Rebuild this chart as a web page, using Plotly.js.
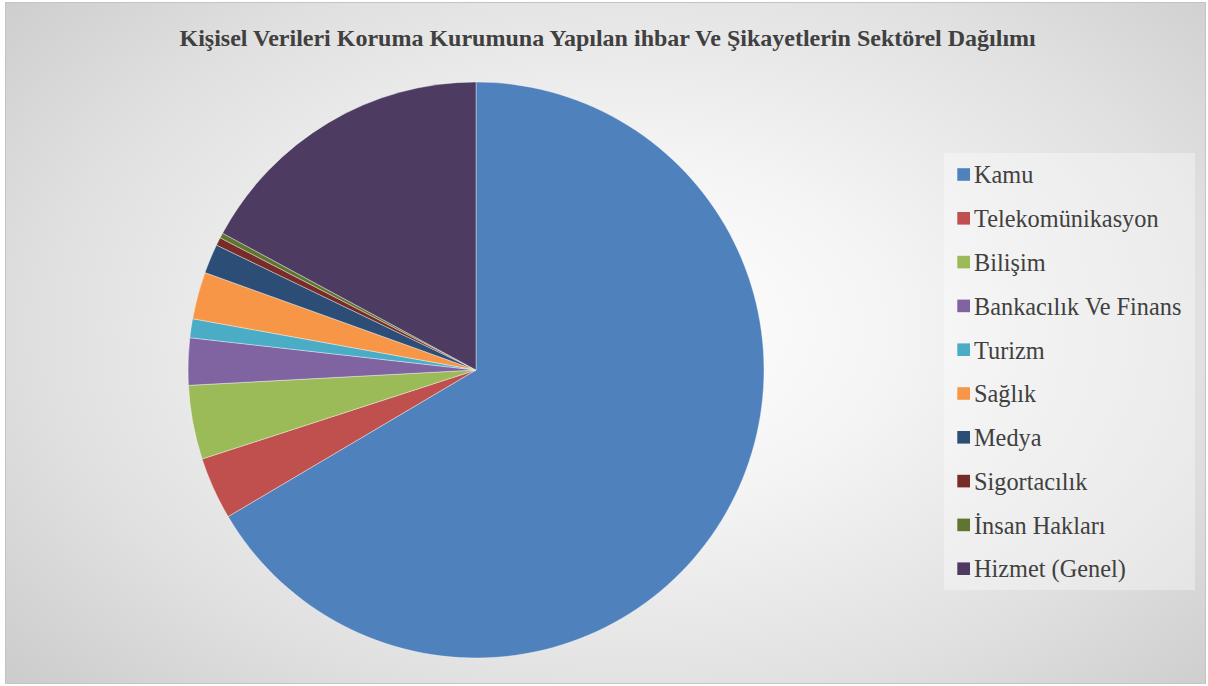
<!DOCTYPE html>
<html>
<head>
<meta charset="utf-8">
<script src="https://cdn.plot.ly/plotly-3.0.1.min.js"></script>
<style>
html,body{margin:0;padding:0;background:#fff;}
#wrap{position:absolute;left:5px;top:2px;width:1201px;height:682px;
 border:1px solid #c4c4c4;box-sizing:border-box;
 background:radial-gradient(ellipse 75% 85% at 52% 48%, #ffffff 0%, #f4f4f4 30%, #e0e0e0 65%, #c6c6c6 100%);}
#chart{position:absolute;left:0;top:0;width:1208px;height:686px;}
</style>
</head>
<body>
<div id="wrap"></div>
<div id="chart"></div>
<script>
const categories = ["Kamu","Telekomünikasyon","Bilişim","Bankacılık Ve Finans","Turizm","Sağlık","Medya","Sigortacılık","İnsan Hakları","Hizmet (Genel)"];
const values = [66.5, 3.5, 4.15, 2.64, 1.06, 2.64, 1.65, 0.45, 0.29, 17.12];
const colors = ["#4F81BD","#C0504D","#9BBB59","#8064A2","#4BACC6","#F79646","#2C4D75","#772C2A","#5F7530","#4D3B62"];
const titleText = "Kişisel Verileri Koruma Kurumuna Yapılan ihbar Ve Şikayetlerin Sektörel Dağılımı";

const W = 1208, H = 686;
const px = x => x / W;
const py = y => 1 - y / H;
const SERIF = "Liberation Serif";

const trace = {
  type: "pie",
  labels: categories,
  values: values,
  sort: false,
  direction: "clockwise",
  rotation: 0,
  textinfo: "none",
  hoverinfo: "label+percent",
  marker: {colors: colors, line: {color: "rgba(255,255,255,0.55)", width: 0.7}},
  domain: {x: [px(188), px(764)], y: [py(658), py(82)]},
  showlegend: false
};

// custom legend
const shapes = [{
  type: "rect", xref: "paper", yref: "paper",
  x0: px(944), x1: px(1195), y0: py(590), y1: py(153),
  fillcolor: "rgba(255,255,255,0.35)", line: {width: 0}, layer: "below"
}];
const annotations = [];
const legTop = 174.5, legStep = 43.8;
categories.forEach((c, i) => {
  const yc = legTop + i * legStep;
  shapes.push({
    type: "rect", xref: "paper", yref: "paper",
    x0: px(957.3), x1: px(970), y0: py(yc + 6.3), y1: py(yc - 6.3),
    fillcolor: colors[i], line: {width: 0}
  });
  annotations.push({
    xref: "paper", yref: "paper", x: px(972), y: py(yc + 0.5),
    xanchor: "left", yanchor: "middle", showarrow: false,
    text: c, font: {family: SERIF, size: 24.3, color: "#404040"}
  });
});

const layout = {
  width: W, height: H,
  margin: {l: 0, r: 0, t: 0, b: 0},
  paper_bgcolor: "rgba(0,0,0,0)",
  plot_bgcolor: "rgba(0,0,0,0)",
  font: {family: SERIF},
  title: {
    text: "<b>" + titleText + "</b>",
    x: 0.503, xanchor: "center", y: py(38), yanchor: "middle",
    font: {family: SERIF, size: 24, color: "#404040"}
  },
  shapes: shapes,
  annotations: annotations
};

Plotly.newPlot("chart", [trace], layout, {displayModeBar: false, staticPlot: true});
</script>
</body>
</html>
